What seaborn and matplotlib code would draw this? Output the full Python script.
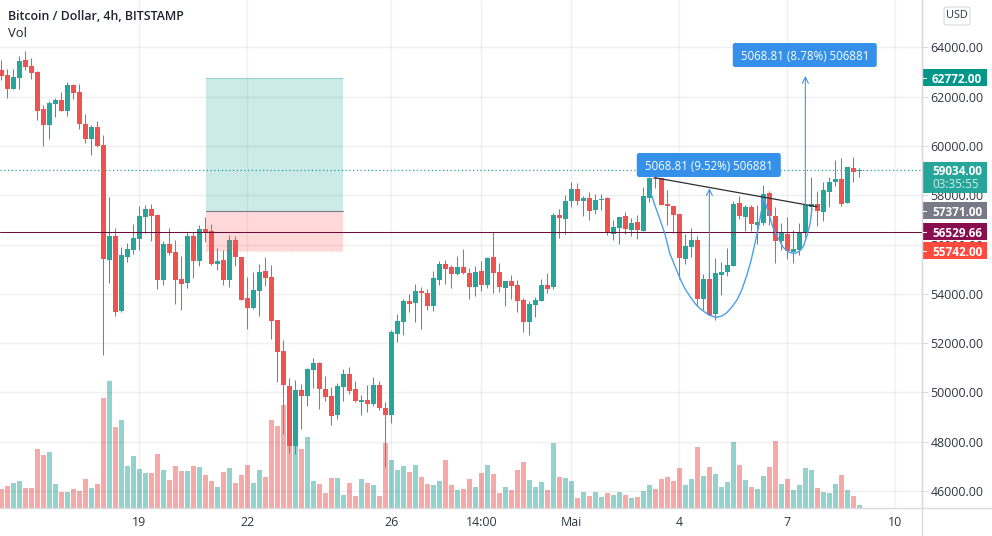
"""
BTC/USD 4h chart with cup and handle drawing
"""

import numpy as np
import pandas as pd
import matplotlib
matplotlib.use("Agg")
import matplotlib.pyplot as plt
from matplotlib.lines import Line2D
from matplotlib.patches import Rectangle, FancyBboxPatch
import seaborn as sb

####################################################################################
###
###                   Data
###
####################################################################################
opens = [63087, 62884, 62315, 62762, 63493, 63249, 63006, 61504, 60854, 61707,
         61869, 61423, 62478, 62194, 60895, 60286, 60773, 60042, 55375, 56349,
         53305, 55496, 55780, 56227, 57120, 57445, 57201, 54563, 56024, 55699,
         54603, 54441, 56349, 55334, 56633, 56552, 55212, 55375, 54563, 56186,
         55496, 53832, 53426, 54117, 54928, 54685, 52939, 51681, 50260, 47825,
         50098, 49855, 50910, 51194, 50139, 49855, 49083, 50220, 50748, 50139,
         49611, 49692, 49530, 50301, 49367, 49083, 52371, 52858, 53711, 53629,
         54117, 54035, 53508, 54563, 55212, 55091, 54807, 55091, 54847, 54279,
         54928, 54360, 55497, 54888, 54238, 54522, 54360, 53751, 52858, 53548,
         53711, 54360, 54278, 57201, 57038, 57769, 58256, 57769, 57891, 57404,
         57810, 57891, 56430, 56673, 57160, 56592, 56917, 56551, 57891, 58703,
         58703, 57647, 57566, 57241, 55415, 55902, 56186, 53791, 54603, 53182,
         54765, 54887, 55131, 57688, 57120, 57525, 56795, 56876, 58094, 57160,
         56145, 56430, 55699, 55780, 56524, 57539, 57647, 57323, 58134, 58540,
         58662, 57688, 59108, 58973]
highs = [63493, 63127, 63127, 63655, 63858, 63574, 63046, 61666, 61828, 61950,
         62194, 62600, 62518, 62518, 61301, 60854, 61017, 60448, 57932, 56673,
         55902, 56065, 56836, 57566, 57607, 57648, 57242, 56146, 56673, 56186,
         55537, 56511, 56511, 56795, 57120, 56836, 55862, 55780, 56389, 56349,
         55496, 54685, 54888, 55212, 55497, 55172, 52939, 52128, 50585, 50504,
         50342, 50991, 51397, 51235, 50666, 50220, 50382, 50951, 51032, 50463,
         49895, 50301, 50626, 50463, 49611, 52533, 53183, 53792, 53995, 54401,
         54279, 54198, 54928, 55334, 55375, 55172, 55537, 55821, 55050, 55131,
         55334, 55497, 56525, 55253, 54522, 54766, 54563, 53832, 53711, 53873,
         54604, 54847, 57282, 57444, 58013, 58540, 58500, 57972, 58134, 58053,
         58053, 57931, 56998, 57120, 57323, 57079, 57201, 58337, 58730, 58730,
         58716, 58215, 57566, 57241, 56430, 56673, 56348, 54806, 54833, 55455,
         55293, 55861, 57769, 57972, 57607, 57607, 57607, 58418, 58175, 57525,
         56876, 57120, 56592, 56876, 57607, 58743, 58175, 58540, 58743, 59433,
         59514, 59149, 59555, 59108]
lows = [62681, 61950, 62315, 62315, 63087, 62721, 61057, 60002, 60286, 61179,
        61423, 61220, 61910, 60692, 60124, 59637, 59961, 51519, 54441, 53102,
        53264, 55293, 55618, 55780, 56471, 56146, 54197, 54360, 55578, 53589,
        53345, 54238, 54644, 55131, 56105, 55172, 54969, 54360, 54279, 55131,
        53751, 52574, 53386, 53102, 54319, 52168, 50423, 48312, 47541, 47500,
        48515, 49449, 50179, 49327, 49652, 48677, 48921, 49652, 49936, 49611,
        49083, 49205, 49449, 49286, 46973, 48759, 52046, 52331, 53264, 52858,
        52574, 53345, 53305, 54360, 54401, 54238, 54766, 54807, 53792, 53914,
        54117, 54238, 54035, 54076, 53508, 53792, 53264, 52452, 52331, 53061,
        53711, 54035, 54197, 56267, 56430, 57525, 57607, 57160, 56998, 57241,
        57404, 56389, 56186, 56024, 56430, 56348, 56227, 56551, 57728, 58283,
        57607, 56795, 56470, 54603, 55212, 55496, 53507, 53345, 53142, 52939,
        53954, 54725, 55131, 57038, 56551, 56551, 56024, 56795, 56795, 55252,
        55780, 55415, 55252, 55577, 56321, 57160, 56754, 56957, 57525, 58378,
        57566, 57688, 58540, 58743]
closes = [62843, 62315, 62803, 63452, 63208, 62965, 61423, 60854, 61747, 61869,
          61423, 62478, 62153, 60895, 60286, 60773, 60002, 55415, 56349, 53264,
          55578, 55821, 56268, 57161, 57445, 57161, 54563, 56024, 55659, 54563,
          54400, 56349, 55334, 56633, 56471, 55212, 55334, 54563, 56186, 55496,
          53751, 53426, 54157, 54888, 54644, 52899, 51641, 50301, 47825, 50098,
          49855, 50951, 51194, 50139, 49814, 49043, 50260, 50748, 50058, 49652,
          49692, 49530, 50301, 49367, 49083, 52452, 52899, 53711, 53589, 54117,
          54035, 53508, 54644, 55212, 55009, 54807, 55091, 54847, 54279, 54888,
          54360, 55456, 54847, 54279, 54522, 54319, 53711, 52858, 53589, 53751,
          54360, 54198, 57201, 57079, 57769, 58256, 57769, 57891, 57363, 57810,
          57850, 56470, 56714, 57120, 56632, 56876, 56592, 57972, 58689, 58662,
          57607, 57566, 57201, 55455, 55942, 56186, 53791, 54603, 53142, 54847,
          54887, 55171, 57647, 57160, 57525, 56835, 56917, 58053, 57160, 56145,
          56470, 55740, 55821, 56524, 57607, 57647, 57363, 58215, 58540, 58662,
          57647, 59149, 58946, 59027]
vols = [57, 66, 75, 81, 60, 60, 177, 159, 168, 72,
        48, 48, 57, 51, 87, 60, 72, 330, 381, 243,
        264, 126, 156, 117, 105, 105, 162, 114, 84, 126,
        111, 111, 126, 123, 99, 81, 63, 108, 120, 75,
        99, 129, 75, 114, 93, 264, 246, 309, 186, 186,
        177, 213, 81, 72, 45, 90, 90, 39, 75, 36,
        87, 75, 69, 36, 195, 144, 114, 126, 108, 129,
        93, 72, 69, 81, 144, 69, 54, 57, 87, 63,
        105, 129, 102, 45, 63, 54, 114, 138, 84, 63,
        78, 54, 195, 93, 90, 81, 30, 48, 36, 48,
        33, 45, 39, 48, 39, 30, 33, 51, 69, 57,
        87, 93, 81, 120, 69, 87, 183, 96, 123, 102,
        63, 78, 198, 129, 84, 63, 57, 96, 123, 201,
        72, 87, 54, 69, 120, 114, 60, 48, 45, 72,
        99, 54, 36, 9]

x_ticks = [23, 41, 65, 80, 95, 113, 131, 149]
x_labels = ["19", "22", "26", "14:00", "Mai", "4", "7", "10"]
y_ticks = [46000, 48000, 50000, 52000, 54000, 56000, 58000, 60000, 62000, 64000]

last_price = 59034.00
hline_price = 56529.66
target_price = 62772.00
entry_price = 57371.00
stop_price = 55742.00
tool_start, tool_end = 34.03, 56.9

cup_x = [108.1, 108.9, 109.8, 110.6, 111.4, 112.3, 113.1, 113.9, 114.8, 115.6, 116.4, 117.3,
         118.1, 119.1, 120.1, 120.9, 121.7, 122.6, 123.4, 124.2, 124.9, 125.6, 126.2, 126.7, 127.0]
cup_y = [58216, 57607, 56998, 56430, 55645, 55104, 54630, 54224, 53886, 53615, 53412, 53250,
         53128, 53047, 53101, 53236, 53453, 53751, 54156, 54725, 55307, 56051, 56727, 57404, 57945]
handle_x = [127.1, 127.8, 128.6, 129.5, 130.3, 131.2, 132.1, 133.0, 133.7, 134.3, 134.8, 135.1]
handle_y = [57877, 57336, 56700, 56254, 55888, 55699, 55631, 55726, 55943, 56389, 56862, 57471]
neck_x = [108.9, 135.9]
neck_y = [58716, 57539]

####################################################################################
###
###                   Figure setup
###
####################################################################################
up_col = "#26A69A"
down_col = "#EF5350"
text_col = "#2f3542"
grid_col = "#2A2E39"
axis_col = "#D9DBDF"
blue_col = "#3490E8"

W, H = 992, 536
x_lim = (-0.222, 153.44)
y_lim = (65928 - 40.59 * 508, 65928)

sb.set_theme(style="white")
plt.rcParams['font.family'] = ['Open Sans', 'DejaVu Sans']

fig = plt.figure(figsize=(W / 100, H / 100), dpi=100, facecolor="white")
rect = [0, (H - 508) / H, 922 / W, 508 / H]

ax_vol = fig.add_axes(rect, zorder=0)
ax = fig.add_axes(rect, zorder=1)
ax.patch.set_alpha(0)

df = pd.DataFrame({"t": np.arange(len(opens)), "open": opens, "high": highs,
                   "low": lows, "close": closes, "vol": vols})
df["side"] = np.where(df["close"] >= df["open"], "up", "down")

####################################################################################
###
###                   Volume bars
###
####################################################################################
sb.barplot(data=df, x="t", y="vol", hue="side", dodge=False, width=0.84, saturation=1,
           linewidth=0, palette={"up": "#93D3CD", "down": "#F7A9A8"}, legend=False, ax=ax_vol)
ax_vol.set_xlim(x_lim)
ax_vol.set_ylim(0, 508 * 3)
ax_vol.axis("off")

####################################################################################
###
###                   Candles
###
####################################################################################
ax.set_xlim(x_lim)
ax.set_ylim(y_lim)
ax.set_axisbelow(True)
ax.grid(True, color=grid_col, alpha=0.07, linewidth=1.0)

colors = np.where(df["side"] == "up", up_col, down_col)
ax.vlines(df["t"], df["low"], df["high"], colors=colors, linewidth=0.75, zorder=3)
ax.bar(df["t"], (df["close"] - df["open"]).abs(), bottom=df[["open", "close"]].min(axis=1),
       width=0.84, color=colors, linewidth=0, zorder=3.1)

# last price
ax.axhline(last_price, color=up_col, linestyle=(0, (1, 2)), linewidth=0.9, zorder=2.5)

####################################################################################
###
###                   Long position tool
###
####################################################################################
ax.add_patch(Rectangle((tool_start, entry_price), tool_end - tool_start, target_price - entry_price,
                       facecolor="#009688", alpha=0.2, linewidth=0, zorder=4))
ax.add_patch(Rectangle((tool_start, stop_price), tool_end - tool_start, entry_price - stop_price,
                       facecolor="#FF5252", alpha=0.22, linewidth=0, zorder=4))
ax.plot([tool_start, tool_end], [entry_price, entry_price], color="#787B86", linewidth=0.8, zorder=4.1)
ax.plot([tool_start, tool_end], [target_price, target_price], color="#009688", alpha=0.25, linewidth=0.8, zorder=4.1)
ax.plot([tool_start, tool_end], [stop_price, stop_price], color="#FF5252", alpha=0.35, linewidth=0.8,
        linestyle=(0, (1, 2)), zorder=4.1)

ax.axhline(hline_price, color="#6A0D3E", linewidth=0.75, zorder=4.5)

####################################################################################
###
###                   Cup and handle drawings
###
####################################################################################
sb.lineplot(x=cup_x, y=cup_y, color="#4C9FEA", linewidth=1.0, sort=False, ax=ax, zorder=5)
sb.lineplot(x=handle_x, y=handle_y, color="#4C9FEA", linewidth=1.0, sort=False, ax=ax, zorder=5)
sb.lineplot(x=neck_x, y=neck_y, color="#2b2e36", linewidth=0.9, sort=False, ax=ax, zorder=5.1)

for a_x, a_from, a_to in [(118, 53142, 58283), (134, 57400, 62843)]:
    ax.annotate("", xy=(a_x, a_to), xytext=(a_x, a_from), zorder=5.2,
                arrowprops=dict(arrowstyle="->", color=blue_col, linewidth=0.75,
                                mutation_scale=11, shrinkA=0, shrinkB=0))

# measure labels, corners are squashed in data units so mutation_aspect evens them out
for x0, x1, y0, y1, a_txt in [(105.9, 129.9, 58744, 59718, "5068.81 (9.52%) 506881"),
                              (121.9, 145.9, 63209, 64183, "5068.81 (8.78%) 506881")]:
    ax.add_patch(FancyBboxPatch((x0, y0), x1 - x0, y1 - y0, boxstyle="round,pad=0,rounding_size=0.4",
                                mutation_aspect=243, facecolor=blue_col, linewidth=0, zorder=6))
    ax.text((x0 + x1) / 2, (y0 + y1) / 2, a_txt, color="white", fontsize=8.3, ha="center",
            va="center_baseline", zorder=6.1, fontweight="medium")

####################################################################################
###
###                   Axes
###
####################################################################################
for a_spine in ["top", "left", "bottom"]:
    ax.spines[a_spine].set_visible(False)
ax.spines["right"].set_color(axis_col)
ax.spines["right"].set_linewidth(1.0)

ax.yaxis.tick_right()
ax.set_yticks(y_ticks)
ax.set_yticklabels(["%.2f" % a_y for a_y in y_ticks])
ax.set_xticks(x_ticks)
ax.set_xticklabels(x_labels)
ax.tick_params(axis="y", length=4, width=0.8, color=axis_col, pad=2, labelsize=8.9, labelcolor=text_col)
ax.tick_params(axis="x", length=4, width=0.8, color=axis_col, pad=2, labelsize=8.9, labelcolor=text_col)

# axis lines carry on past the plot area
fig.add_artist(Line2D([0, 1], [(H - 508) / H] * 2, color=axis_col, linewidth=1.0))
fig.add_artist(Line2D([922 / W] * 2, [0, 1], color=axis_col, linewidth=1.0))

####################################################################################
###
###                   Price labels on the right
###
####################################################################################
y_trans = ax.get_yaxis_transform()
box_right = 987 / 922
text_left = 932 / 922
for a_price, a_col in [(target_price, "#009688"), (entry_price, "#787B86"),
                       (hline_price, "#880E4F"), (stop_price, "#FF4A3D")]:
    ax.add_patch(Rectangle((1, a_price - 345), box_right - 1, 690, transform=y_trans, clip_on=False,
                           facecolor=a_col, linewidth=0, zorder=7))
    ax.text(text_left, a_price, "%.2f" % a_price, transform=y_trans, color="white", fontsize=8.5,
            fontweight="bold", va="center_baseline", ha="left", clip_on=False, zorder=8)
    ax.plot([1, 926 / 922], [a_price, a_price], transform=y_trans, color="white", linewidth=0.8,
            clip_on=False, zorder=8)

ax.add_patch(Rectangle((1, 58094), box_right - 1, 1258, transform=y_trans, clip_on=False,
                       facecolor="#26A69A", linewidth=0, zorder=7))
ax.text(text_left, last_price, "%.2f" % last_price, transform=y_trans, color="white", fontsize=8.5,
        fontweight="bold", va="center_baseline", ha="left", clip_on=False, zorder=8)
ax.text(text_left, 58490, "03:35:55", transform=y_trans, color="#D4EDEA", fontsize=8.5,
        fontweight="medium", va="center_baseline", ha="left", clip_on=False, zorder=8)

# USD badge
fig.add_artist(FancyBboxPatch((944 / W, 1 - 25 / H), 26 / W, 18 / H, transform=fig.transFigure,
                              boxstyle="round,pad=0,rounding_size=0.004", facecolor="white",
                              edgecolor="#D5D8DC", linewidth=0.8))
fig.text(957 / W, 1 - 15.8 / H, "USD", color=text_col, fontsize=7.8, ha="center", va="center")

# title
fig.text(8 / W, 1 - 16.5 / H, "Bitcoin / Dollar, 4h, BITSTAMP", color="#1f2430", fontsize=8.9,
         fontweight="semibold", ha="left", va="center")
fig.text(8 / W, 1 - 33.5 / H, "Vol", color="#1f2430", fontsize=9.4, ha="left", va="center")

fig.savefig("out.png", dpi=100)
plt.close()
